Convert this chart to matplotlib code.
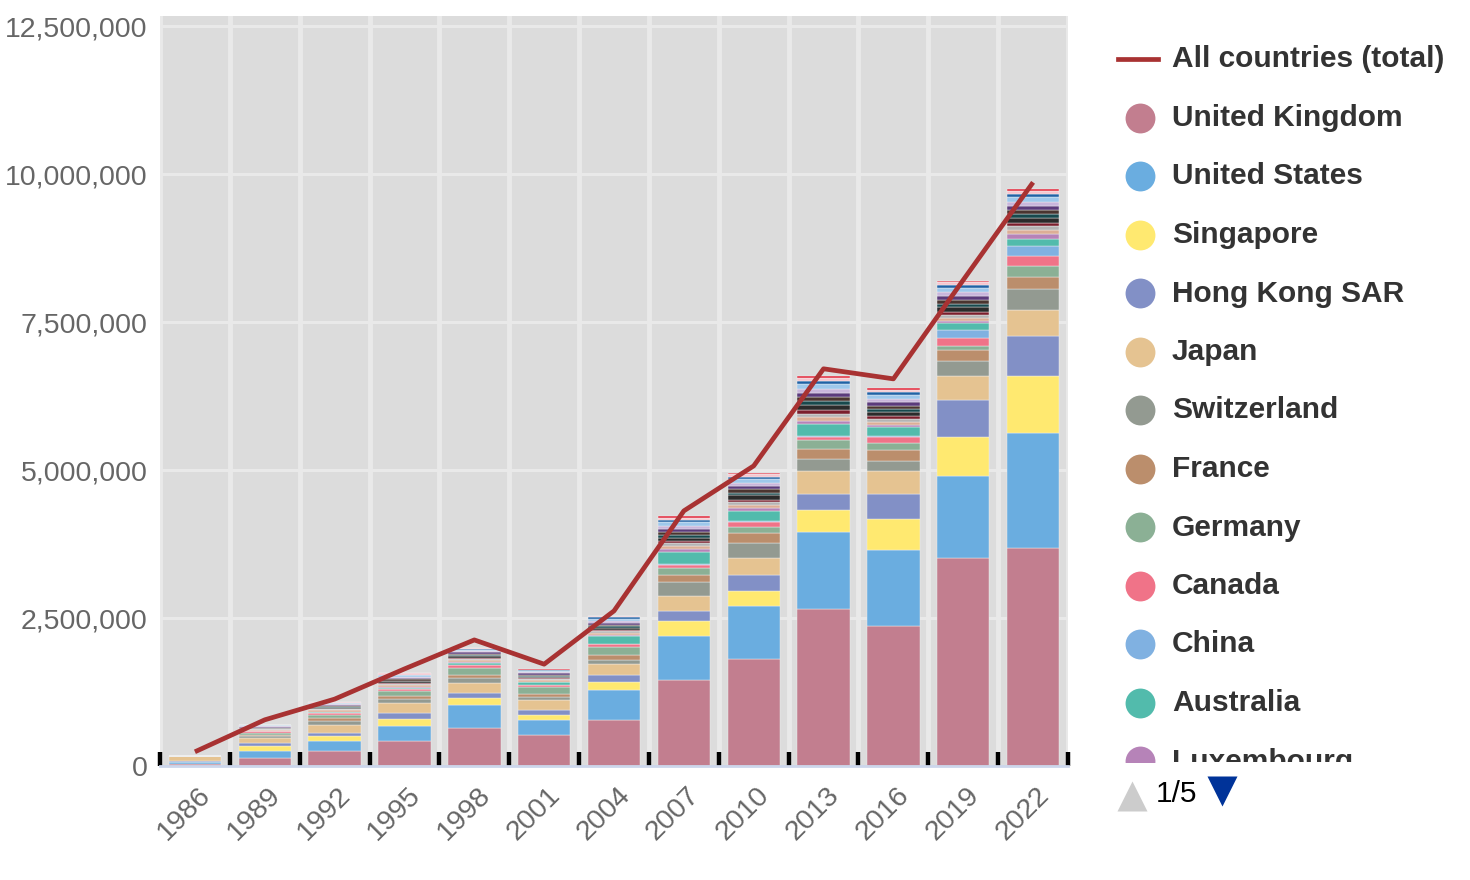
import numpy as np
import matplotlib
matplotlib.use('Agg')
from matplotlib import pyplot as plt
from matplotlib import transforms
from matplotlib.ticker import FuncFormatter, FixedLocator

plt.rcParams['font.family'] = ['Liberation Sans', 'DejaVu Sans']

## data (thousands)
years = [1986, 1989, 1992, 1995, 1998, 2001, 2004, 2007, 2010, 2013, 2016, 2019, 2022]
total = [240, 780, 1130, 1640, 2130, 1720, 2620, 4310, 5070, 6710, 6540, 8210, 9860]

countries = ['United Kingdom', 'United States', 'Singapore', 'Hong Kong SAR', 'Japan',
             'Switzerland', 'France', 'Germany', 'Canada', 'China', 'Australia',
             'Luxembourg', 'Netherlands', 'Ireland', 'Korea', 'Taiwan', 'India',
             'Sweden', 'Italy', 'Belgium', 'Spain', 'Norway', 'Denmark',
             'United Arab Emirates']
colors = ['#c27e8f', '#6aade0', '#ffe970', '#8290c6', '#e5c391', '#939a91',
          '#bb8e6c', '#8bb095', '#f07388', '#80b1e1', '#52bbac', '#b683b8',
          '#dcae96', '#b4b4b4', '#7b1e2c', '#2b2b2b', '#17494d', '#4a3530',
          '#5b3b7c', '#c9b6dc', '#9ec8ec', '#1f62a6', '#f6c6cf', '#e42c40']

uk = [40, 130, 260, 430, 650, 520, 770, 1460, 1800, 2660, 2360, 3520, 3690]
us = [30, 130, 170, 250, 380, 260, 510, 730, 900, 1290, 1290, 1380, 1940]
singapore = [5, 80, 85, 120, 120, 80, 135, 260, 260, 380, 520, 650, 950]
hong_kong = [10, 50, 40, 90, 90, 90, 120, 170, 260, 260, 430, 640, 690]
japan = [85, 85, 140, 170, 170, 170, 180, 260, 300, 390, 390, 390, 430]
switzerland = [0, 40, 70, 80, 80, 50, 80, 220, 250, 200, 170, 260, 350]
france = [0, 15, 45, 45, 50, 40, 85, 120, 170, 180, 170, 180, 210]
germany = [0, 35, 45, 90, 120, 120, 135, 130, 100, 140, 120, 80, 180]
canada = [0, 30, 40, 34, 45, 45, 40, 40, 80, 50, 100, 130, 170]
china = [0, 0, 0, 0, 0, 0, 10, 15, 20, 30, 30, 130, 170]
australia = [0, 0, 10, 10, 40, 40, 130, 210, 170, 200, 140, 120, 130]
luxembourg = [0, 0, 15, 10, 10, 10, 15, 45, 45, 50, 40, 30, 80]
netherlands = [0, 15, 25, 35, 30, 25, 40, 60, 60, 70, 55, 60, 70]
ireland = [0, 10, 15, 25, 25, 20, 25, 40, 45, 50, 45, 50, 55]
korea = [0, 5, 10, 15, 20, 15, 25, 40, 40, 60, 45, 50, 60]
taiwan = [0, 10, 15, 25, 25, 25, 35, 60, 70, 90, 70, 80, 80]
india = [0, 5, 10, 15, 15, 15, 25, 45, 50, 70, 55, 60, 70]
sweden = [0, 10, 15, 20, 25, 20, 30, 55, 60, 70, 60, 65, 70]
italy = [0, 10, 15, 25, 25, 25, 30, 50, 50, 60, 55, 60, 65]
belgium = [0, 10, 15, 20, 20, 15, 30, 50, 55, 70, 60, 65, 70]
spain = [0, 15, 20, 25, 25, 20, 35, 55, 60, 75, 60, 70, 75]
norway = [0, 0, 5, 10, 10, 10, 25, 40, 45, 60, 45, 50, 55]
denmark = [0, 10, 15, 25, 20, 15, 20, 40, 40, 45, 50, 55, 50]
uae = [0, 0, 0, 0, 5, 5, 10, 25, 25, 30, 20, 25, 40]

series = [uk, us, singapore, hong_kong, japan, switzerland, france, germany,
          canada, china, australia, luxembourg, netherlands, ireland, korea,
          taiwan, india, sweden, italy, belgium, spain, norway, denmark, uae]

W, H = 1470, 880
fig = plt.figure(figsize=(W / 100, H / 100), dpi=100)

## main plot area in pixel terms
x0, x1, ytop, ybot = 160, 1068, 16, 766
ax = fig.add_axes([x0 / W, 1 - ybot / H, (x1 - x0) / W, (ybot - ytop) / H])
ax.set_facecolor('#dcdcdc')

x = np.arange(len(years))
bottom = np.zeros(len(years))
for vals, col in zip(series, colors):
    v = np.array(vals) * 1000.0
    ax.bar(x, v, 0.75, bottom=bottom, color=col, edgecolor='#f2f2f2',
           linewidth=0.3, zorder=3)
    bottom += v

ax.plot(x, np.array(total) * 1000.0, color='#a83232', lw=3.4, zorder=5,
        solid_capstyle='butt')

ax.set_xlim(-0.5, len(years) - 0.5)
ax.set_ylim(0, 12.67e6)
ax.set_yticks(np.arange(0, 12.5e6 + 1, 2.5e6))
ax.yaxis.set_major_formatter(FuncFormatter(lambda v, p: '{:,.0f}'.format(v)))
ax.tick_params(axis='y', length=0, pad=9, labelsize=20.5, labelcolor='#666666')

ax.set_xticks(x)
ax.set_xticklabels([str(y) for y in years], rotation=45, ha='right',
                   va='center', rotation_mode='anchor')
ax.tick_params(axis='x', which='major', length=0, pad=18, labelsize=20.5,
               labelcolor='#666666')
shift = transforms.ScaledTranslation(12 / 100, 0, fig.dpi_scale_trans)
for lab in ax.get_xticklabels():
    lab.set_transform(lab.get_transform() + shift)
ax.xaxis.set_minor_locator(FixedLocator(np.arange(-0.5, len(years), 1.0)))
ax.tick_params(axis='x', which='minor', direction='in', length=10, width=3.2,
               color='black')

## grid
ax.set_axisbelow(False)
for yv in np.arange(2.5e6, 12.5e6 + 1, 2.5e6):
    ax.axhline(yv, color='#e9e9e9', lw=2.2, zorder=1)
for xv in np.arange(-0.5, len(years), 1.0):
    ax.axvline(xv, color='#e9e9e9', lw=3.5, zorder=1)

for s in ['top', 'right', 'left']:
    ax.spines[s].set_visible(False)
ax.spines['bottom'].set_color('#ccd6eb')
ax.spines['bottom'].set_linewidth(2)
ax.spines['bottom'].set_zorder(6)

## legend (first page only, clipped)
lax = fig.add_axes([1100 / W, 1 - 762 / H, 370 / W, (762 - 25) / H])
lax.set_xlim(1100, 1470)
lax.set_ylim(762, 25)
lax.axis('off')
lax.plot([1118, 1158], [59, 59], color='#a83232', lw=3.4, clip_on=True)
lax.text(1172, 59, 'All countries (total)', fontsize=21.5, fontweight='bold',
         color='#333333', va='center', ha='left', clip_on=True)
for i in range(12):
    yy = 118 + i * 58.5
    lax.plot(1140, yy, 'o', ms=21.5, color=colors[i], mec='none', clip_on=True)
    lax.text(1172, yy, countries[i], fontsize=21.5, fontweight='bold',
             color='#333333', va='center', ha='left', clip_on=True)

## legend pager
nax = fig.add_axes([0, 0, 1, 1])
nax.set_xlim(0, W)
nax.set_ylim(H, 0)
nax.axis('off')
nax.plot(1132, 796, marker='^', ms=22, color='#cccccc', mec='none')
nax.text(1156, 794, '1/5', fontsize=21.5, color='black', va='center', ha='left')
nax.plot(1222, 791, marker='v', ms=22, color='#003399', mec='none')

fig.savefig('out.png', dpi=100)
